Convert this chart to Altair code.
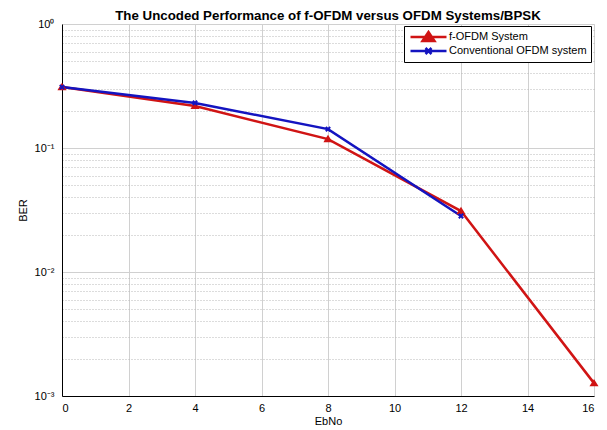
import altair as alt
import pandas as pd

ebno_f = [0, 4, 8, 12, 16]
ber_f = [0.31, 0.218, 0.118, 0.031, 0.00127]
ebno_c = [0, 4, 8, 12]
ber_c = [0.31, 0.231, 0.142, 0.0283]
series = ["f-OFDM System", "Conventional OFDM system"]
colors = ["#d01414", "#1414c0"]
x_ticks = [0, 2, 4, 6, 8, 10, 12, 14, 16]
y_ticks = [m * 10.0 ** e for e in (-3, -2, -1) for m in range(1, 10)] + [1.0]

df = pd.DataFrame(
    [{"EbNo": x, "BER": y, "series": series[0]} for x, y in zip(ebno_f, ber_f)]
    + [{"EbNo": x, "BER": y, "series": series[1]} for x, y in zip(ebno_c, ber_c)]
)

FONT = "Liberation Sans"
decade = "abs(log(datum.value)/LN10 - round(log(datum.value)/LN10)) < 0.001"
label_expr = (
    "abs(log(datum.value)/LN10 - round(log(datum.value)/LN10)) < 0.001 ? "
    "(round(log(datum.value)/LN10) == 0 ? '10⁰' : "
    "round(log(datum.value)/LN10) == -1 ? '10⁻¹' : "
    "round(log(datum.value)/LN10) == -2 ? '10⁻²' : '10⁻³') : ''"
)

xenc = alt.X(
    "EbNo:Q",
    scale=alt.Scale(domain=[0, 16], nice=False),
    axis=alt.Axis(
        values=x_ticks, title="EbNo", grid=True, gridColor="#d0d0d0",
        tickSize=0, labelPadding=6, titlePadding=2, domainColor="black",
        labelFont=FONT, titleFont=FONT, labelFontSize=11, titleFontSize=11,
        titleFontWeight="normal", labelColor="black", titleColor="black",
    ),
)
yenc = alt.Y(
    "BER:Q",
    scale=alt.Scale(type="log", domain=[0.001, 1], nice=False),
    axis=alt.Axis(
        values=y_ticks, title="BER", grid=True,
        gridColor={"condition": {"test": decade, "value": "#d0d0d0"}, "value": "#b8b8b8"},
        gridDash={"condition": {"test": decade, "value": []}, "value": [1, 2]},
        tickSize=0, labelExpr=label_expr, labelPadding=8, titlePadding=6,
        domainColor="black", labelFont=FONT, titleFont=FONT,
        labelFontSize=11, titleFontSize=11, titleFontWeight="normal",
        labelColor="black", titleColor="black", labelOverlap=False,
    ),
)

color_scale = alt.Scale(domain=series, range=colors)

lines = alt.Chart(df).mark_line(strokeWidth=2.5).encode(
    x=xenc, y=yenc,
    color=alt.Color("series:N", scale=color_scale, legend=None),
)

marker_paths = [
    "M-1,0.75L0,-0.85L1,0.75Z",
    "M-0.8,-0.8L0.8,0.8M-0.8,0.8L0.8,-0.8",
]
points = alt.Chart(df).mark_point(filled=True, opacity=1, strokeWidth=2).encode(
    x="EbNo:Q", y="BER:Q",
    fill=alt.Fill("series:N", scale=color_scale, legend=None),
    stroke=alt.Stroke("series:N", scale=color_scale, legend=None),
    shape=alt.Shape("series:N", scale=alt.Scale(domain=series, range=marker_paths), legend=None),
    size=alt.value(30),
)

legend_paths = [
    "M-3.6,0H3.6M-1.2,0.8L0,-1.0L1.2,0.8Z",
    "M-3.6,0H3.6M-0.6,-0.6L0.6,0.6M-0.6,0.6L0.6,-0.6",
]


def leg_params():
    return alt.Legend(
        title=None, orient="none", legendX=342, legendY=2,
        symbolSize=100, symbolOffset=14, labelOffset=14,
        symbolStrokeWidth=2.5, symbolOpacity=1, clipHeight=14,
        strokeColor="black", fillColor="white", padding=4,
        labelFont=FONT, labelFontSize=11, labelColor="black",
        labelLimit=300, rowPadding=0,
    )


leg = alt.Chart(df).mark_point(filled=True, opacity=1, strokeWidth=2.5, size=0).encode(
    x="EbNo:Q", y="BER:Q",
    fill=alt.Fill("series:N", scale=color_scale, legend=leg_params()),
    stroke=alt.Stroke("series:N", scale=color_scale, legend=leg_params()),
    shape=alt.Shape(
        "series:N",
        scale=alt.Scale(domain=series, range=legend_paths),
        legend=leg_params(),
    ),
)

chart = (
    alt.layer(lines, points, leg)
    .resolve_scale(shape="independent", fill="independent", stroke="independent")
    .properties(
        width=532, height=372,
        title=alt.TitleParams(
            "The Uncoded Performance of f-OFDM versus OFDM Systems/BPSK",
            font=FONT, fontSize=13.3, fontWeight="bold", color="black",
            offset=3, dy=7, frame="group", anchor="middle",
        ),
        padding={"left": 62, "top": 24, "right": 13, "bottom": 34},
        autosize=alt.AutoSizeParams(type="none"),
    )
    .configure_view(stroke="black", strokeWidth=1)
    .configure(background="white")
)

chart.save("out.html", embed_options={"renderer": "svg", "actions": False})
